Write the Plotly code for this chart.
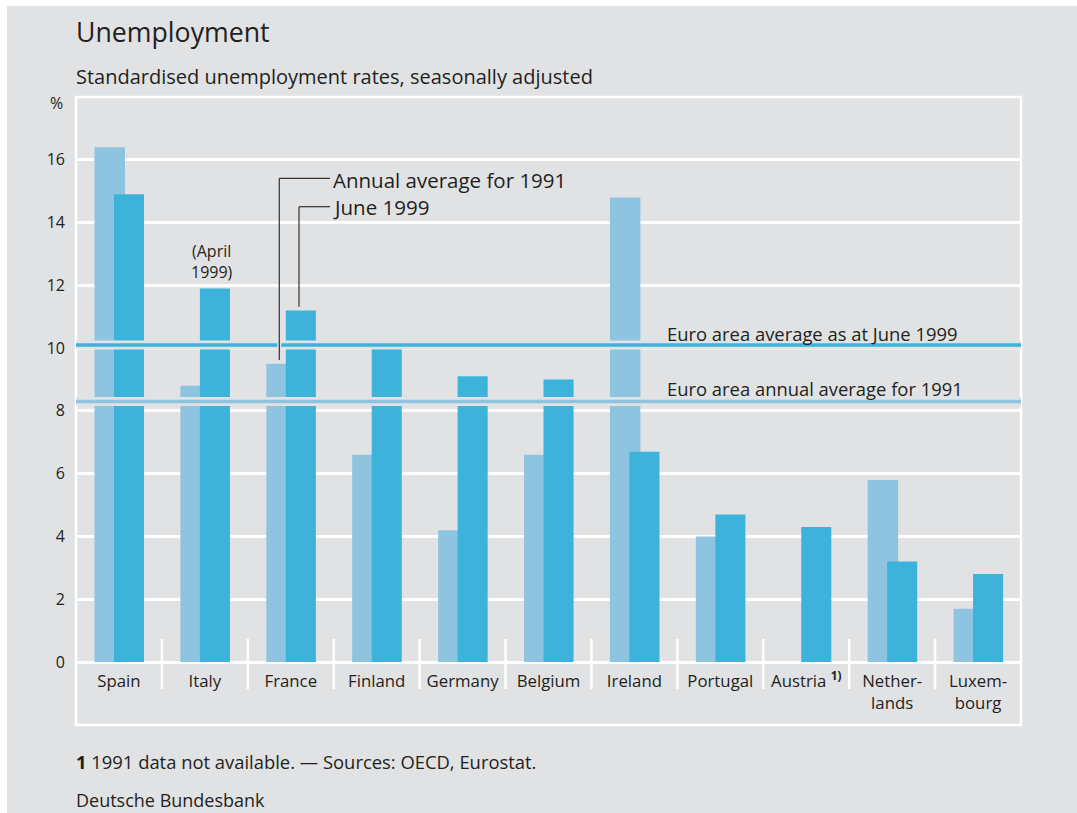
import plotly.graph_objects as go

# ---------------- data ----------------
countries = ["Spain", "Italy", "France", "Finland", "Germany", "Belgium", "Ireland",
             "Portugal", "Austria <sup><b>1)</b></sup>", "Nether-<br>lands", "Luxem-<br>bourg"]
rate_1991 = [16.4, 8.8, 9.5, 6.6, 4.2, 6.6, 14.8, 4.0, None, 5.8, 1.7]
rate_1999 = [14.9, 11.9, 11.2, 10.0, 9.1, 9.0, 6.7, 4.7, 4.3, 3.2, 2.8]
euro_avg_1991 = 8.3
euro_avg_1999 = 10.1
y_ticks = [0, 2, 4, 6, 8, 10, 12, 14, 16]

# ---------------- style ----------------
W, H = 1077, 813
L, R, T, B = 76, 1021, 97, 662
BG = "#e1e2e4"
LIGHT = "#8fc4e0"
DARK = "#3db3db"
TXT = "#231f20"
FONT = "Open Sans"


def px(x):
    return (x - L) / (R - L)


def py(y):
    return (B - y) / (B - T)


x_idx = list(range(len(countries)))

fig = go.Figure()
fig.add_trace(go.Bar(x=x_idx, y=rate_1991, offset=-0.285, width=0.355,
                     marker=dict(color=LIGHT, line=dict(width=0)),
                     name="Annual average for 1991", hoverinfo="skip"))
fig.add_trace(go.Bar(x=x_idx, y=rate_1999, offset=-0.058, width=0.35,
                     marker=dict(color=DARK, line=dict(width=0)),
                     name="June 1999", hoverinfo="skip"))

shapes = []
# white page edges
shapes.append(dict(type="rect", xref="paper", yref="paper", x0=px(0), x1=px(W),
                   y0=py(6), y1=py(0), fillcolor="white", line=dict(width=0), layer="below"))
shapes.append(dict(type="rect", xref="paper", yref="paper", x0=px(0), x1=px(7),
                   y0=py(H), y1=py(0), fillcolor="white", line=dict(width=0), layer="below"))
# category separators
for i in range(len(countries) - 1):
    shapes.append(dict(type="line", xref="x", yref="paper", x0=i + 0.5, x1=i + 0.5,
                       y0=py(689), y1=py(639), line=dict(color="white", width=2.5)))
# frame
shapes.append(dict(type="rect", xref="paper", yref="paper", x0=0, x1=1,
                   y0=py(725), y1=1, line=dict(color="white", width=2.5)))
# euro area lines with background gaps
for val, col in [(euro_avg_1999, DARK), (euro_avg_1991, LIGHT)]:
    shapes.append(dict(type="line", xref="paper", yref="y", x0=0, x1=1, y0=val, y1=val,
                       line=dict(color=BG, width=9), layer="above"))
    shapes.append(dict(type="line", xref="paper", yref="y", x0=0, x1=1, y0=val, y1=val,
                       line=dict(color=col, width=3.5), layer="above"))

# leader lines
shapes.append(dict(type="line", xref="paper", yref="y", x0=px(279.3), x1=px(279.3),
                   y0=euro_avg_1999 - 0.2, y1=euro_avg_1999 + 0.2,
                   line=dict(color=BG, width=4), layer="above"))
shapes.append(dict(type="line", xref="paper", yref="paper", x0=px(279.3), x1=px(279.3),
                   y0=py(360), y1=py(178.3), line=dict(color="#333333", width=1.2), layer="above"))
shapes.append(dict(type="line", xref="paper", yref="paper", x0=px(279.3), x1=px(330),
                   y0=py(178.3), y1=py(178.3), line=dict(color="#333333", width=1.2), layer="above"))
shapes.append(dict(type="line", xref="paper", yref="paper", x0=px(299), x1=px(299),
                   y0=py(306.7), y1=py(206.7), line=dict(color="#333333", width=1.2), layer="above"))
shapes.append(dict(type="line", xref="paper", yref="paper", x0=px(299), x1=px(330),
                   y0=py(206.7), y1=py(206.7), line=dict(color="#333333", width=1.2), layer="above"))

ann = []


def text(x, y, s, size, xanchor="left", yanchor="middle", align="left"):
    ann.append(dict(x=x, y=y, xref="paper", yref="paper", text=s, showarrow=False,
                    xanchor=xanchor, yanchor=yanchor, align=align,
                    font=dict(family=FONT, size=size, color=TXT)))


text(px(74), py(31), "Unemployment", 26.7)
text(px(74), py(77), "Standardised unemployment rates, seasonally adjusted", 20)
text(px(65), py(103), "%", 16, xanchor="right")
text(px(212), py(261), "(April<br>1999)", 16, xanchor="center", align="center")
text(px(331), py(179.5), "Annual average for 1991", 20.5)
text(px(331), py(207), "June 1999", 20.5)
text(px(665), py(333), "Euro area average as at June 1999", 18.4)
text(px(665), py(388.5), "Euro area annual average for 1991", 18.4)
text(px(74), py(761), "<b>1</b> 1991 data not available. — Sources: OECD, Eurostat.", 18.4)
text(px(74), py(800), "Deutsche Bundesbank", 18)

fig.update_layout(
    width=W, height=H, autosize=False,
    margin=dict(l=L, r=W - R, t=T, b=H - B, pad=0),
    paper_bgcolor=BG, plot_bgcolor=BG,
    barmode="overlay", showlegend=False,
    shapes=shapes, annotations=ann,
    font=dict(family=FONT, color=TXT),
    xaxis=dict(range=[-0.5, len(countries) - 0.5], tickvals=x_idx, ticktext=countries,
               showgrid=False, zeroline=False, showline=False, ticks="",
               ticklabelstandoff=7, tickfont=dict(family=FONT, size=16.8, color=TXT),
               fixedrange=True),
    yaxis=dict(range=[0, 18], tickvals=y_ticks, showgrid=True, gridcolor="white", gridwidth=2.5,
               zeroline=True, zerolinecolor="white", zerolinewidth=3, showline=False, ticks="",
               ticklabelstandoff=10, tickfont=dict(family=FONT, size=16, color=TXT),
               fixedrange=True),
)

fig.write_html("out.html", config={"displayModeBar": False},
               post_script="document.body.style.margin='0';document.body.style.overflow='hidden';")
